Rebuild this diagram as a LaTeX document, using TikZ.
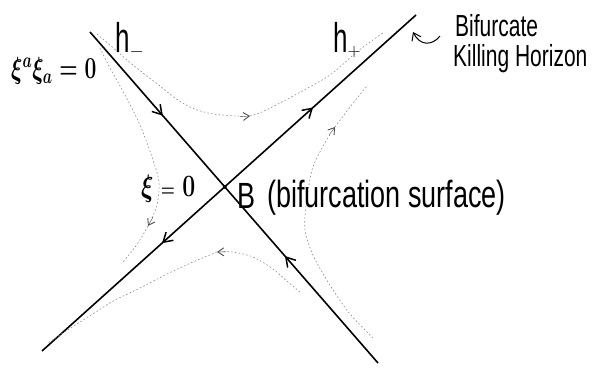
\RequirePackage{fix-cm}
\documentclass[tikz,border=0pt]{standalone}
\usepackage{graphicx}
\usepackage{fontspec}
\setmainfont{Liberation Sans}
\usetikzlibrary{arrows.meta,decorations.markings}
\newcommand{\tallbox}[2][1.4]{\scalebox{1}[#1]{#2}}
\tikzset{hortip/.tip={Straight Barb[length=9pt,width=11pt,line width=1.5pt]}}
\begin{document}
\begin{tikzpicture}[x=1pt,y=-1pt,
  horizon/.style={line width=1.6pt, black},
  flowline/.style={black!45, line width=0.6pt, dash pattern=on 1.6pt off 2.2pt},
  flowtip/.style={black!70, -{Straight Barb[length=6pt,width=8pt,line width=0.9pt]}},
  hand/.style={inner sep=0pt, anchor=base west},
]
\useasboundingbox (0,0) rectangle (595,371);

% horizons
\coordinate (hmA) at (90,32);
\coordinate (hmB) at (378,363);
\coordinate (hpA) at (42,351);
\coordinate (hpB) at (416,15);
\coordinate (B) at (intersection of hmA--hmB and hpA--hpB);

\draw[horizon, postaction={decorate}, decoration={markings,
  mark=at position 0.253 with {\arrow{hortip}},
  mark=at position 0.677 with {\arrowreversed{hortip}}}] (hmA) -- (hmB);
\draw[horizon, postaction={decorate}, decoration={markings,
  mark=at position 0.321 with {\arrowreversed{hortip}},
  mark=at position 0.725 with {\arrow{hortip}}}] (hpA) -- (hpB);
\fill (B) circle (2pt);

% Killing flow lines (hyperbolae)
% top
\draw[flowline] plot[smooth] coordinates {(97,34) (110,45) (127,60) (143,73) (160,86) (175,98) (192,108) (213,114) (244,116.5)};
\draw[flowtip] (240,116.7) -- (250,116);
\draw[flowline] plot[smooth] coordinates {(250,116) (262,112) (278,104) (295,95) (330,75) (358,51) (383,33)};
% left
\draw[flowline] plot[smooth] coordinates {(100,48) (110,68) (125,95) (140,125) (152,157) (159,182) (157,205) (151,220)};
\draw[flowtip] (153,217) -- (148,226);
\draw[flowline] plot[smooth] coordinates {(148,226) (138,243) (123,262)};
% bottom
\draw[flowline] plot[smooth] coordinates {(300,292) (288,282) (273,269) (253,257) (233,252) (223,251.8)};
\draw[flowtip] (226,251.8) -- (217,252);
\draw[flowline] plot[smooth] coordinates {(217,252) (193,262) (167,274) (140,288) (115,300) (102,308) (80,322) (60,335) (48,343)};
% right
\draw[flowline] plot[smooth] coordinates {(373,338) (350,314) (335,293) (322,272) (312,253) (305,230) (306,205) (312,170) (322,148) (331,133)};
\draw[flowtip] (329,135) -- (335,127);
\draw[flowline] plot[smooth] coordinates {(335,127) (350,107) (362,92) (368,85)};

% labels
\node[hand, font=\fontsize{26}{30}\selectfont] (hminus) at (115,53) {\tallbox[1.6]{h}$_{-}$};
\node[hand, font=\fontsize{26}{30}\selectfont] (hplus) at (333,53) {\tallbox[1.6]{h}$_{+}$};
\node[hand, font=\fontsize{21}{25}\selectfont] (norm) at (11,79) {\tallbox[1.45]{\boldmath$\xi^a\xi_a=0$}};
\node[hand, font=\fontsize{23}{27}\selectfont] (xizero) at (141,197) {\tallbox[1.35]{\boldmath$\xi\mathrel{\scriptstyle=}0$}};
\node[hand, font=\fontsize{27}{31}\selectfont] (Blabel) at (237,209) {\tallbox[1.35]{B}};
\node[hand, font=\fontsize{27}{31}\selectfont] (bsurf) at (267,208) {\tallbox[1.4]{(bifurcation surface)}};
\node[hand, font=\fontsize{21}{25}\selectfont] (bif) at (455,37) {\tallbox[1.45]{Bifurcate}};
\node[hand, font=\fontsize{21}{25}\selectfont] (kh) at (453,67) {\tallbox[1.45]{Killing Horizon}};

% pointer arrow to the horizon
\coordinate (ptrS) at (440,36);
\coordinate (ptrE) at (413,32);
\draw[line width=1pt, -{Straight Barb[length=7pt,width=10pt,line width=1pt]}]
  (ptrS) .. controls (432,46) and (420,46) .. (ptrE);
\end{tikzpicture}
\end{document}
